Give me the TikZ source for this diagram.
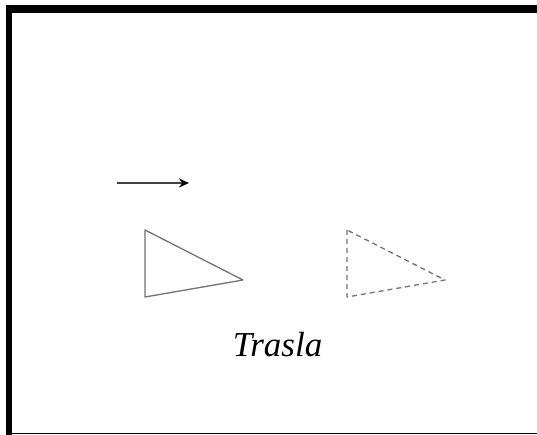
\documentclass[tikz,border=0pt]{standalone}
\usepackage{fontspec}
\setmainfont{Liberation Serif}
\usetikzlibrary{arrows.meta}

\begin{document}
\begin{tikzpicture}[
  x=1pt,
  y=-1pt,
  >=Stealth,
  frame/.style={fill=black},
  figline/.style={draw=black!55, line width=1.3pt, line join=round},
  imgline/.style={figline, dash pattern=on 5pt off 4pt},
  vec/.style={->, draw=black!75, line width=1.8pt, >={Stealth[length=10pt,width=9pt,black]}},
  caption/.style={font=\fontsize{35}{40}\selectfont\itshape, inner sep=0pt}
]
  \useasboundingbox[fill=white] (0,0) rectangle (537,435);

  % marco
  \fill[frame] (6,5) rectangle (537,13);
  \fill[frame] (6,5) rectangle (12,435);
  \fill[frame] (6,432.5) rectangle (537,434);

  % vector de traslacion
  \coordinate (v0) at (117,183);
  \coordinate (v1) at (189,183);
  \draw[vec] (v0) -- (v1);

  % triangulo original
  \coordinate (a) at (145,230);
  \coordinate (b) at (145,297);
  \coordinate (c) at (243,280);
  \draw[figline] (a) -- (b) -- (c) -- cycle;

  % triangulo trasladado
  \coordinate (a') at (347,230);
  \coordinate (b') at (347,297);
  \coordinate (c') at (445,280);
  \draw[imgline] (a') -- (b') -- (c') -- cycle;

  \node[caption, anchor=base] (title) at (277.5,356) {Trasla};
\end{tikzpicture}
\end{document}
